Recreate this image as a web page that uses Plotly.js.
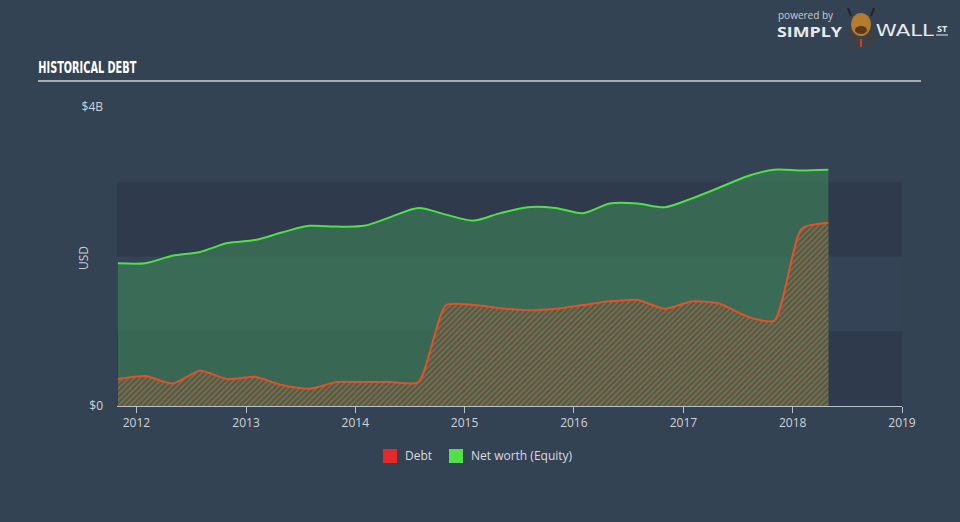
<!DOCTYPE html>
<html>
<head>
<meta charset="utf-8">
<script src="https://cdn.plot.ly/plotly-3.0.1.min.js"></script>
<style>
html,body{margin:0;padding:0;background:#344354;}
#chart{width:960px;height:522px;}
</style>
</head>
<body>
<div id="chart"></div>
<script>
var dates = ['2011-10-31','2012-01-31','2012-04-30','2012-07-31','2012-10-31','2013-01-31','2013-04-30','2013-07-31','2013-10-31','2014-01-31','2014-04-30','2014-07-31','2014-10-31','2015-01-31','2015-04-30','2015-07-31','2015-10-31','2016-01-31','2016-04-30','2016-07-31','2016-10-31','2017-01-31','2017-04-30','2017-07-31','2017-10-31','2018-01-31','2018-04-30'];
var debt = [0.36,0.40,0.30,0.47,0.36,0.39,0.28,0.23,0.32,0.32,0.32,0.32,1.35,1.35,1.31,1.28,1.30,1.35,1.40,1.42,1.30,1.40,1.37,1.20,1.14,2.37,2.45];
var equity = [1.91,1.91,2.01,2.06,2.18,2.22,2.32,2.41,2.40,2.41,2.53,2.65,2.56,2.48,2.58,2.66,2.65,2.58,2.71,2.71,2.66,2.78,2.92,3.07,3.16,3.15,3.16];
var yTickVals = [0,4];
var yTickText = ['$0','$4B'];
var xTickVals = ['2012-01-01','2013-01-01','2014-01-01','2015-01-01','2016-01-01','2017-01-01','2018-01-01','2019-01-01'];
var xTickText = ['2012','2013','2014','2015','2016','2017','2018','2019'];
var legendNames = ['Debt','Net worth (Equity)'];

var traces = [
  {x: dates, y: equity, type: 'scatter', mode: 'lines', name: legendNames[1],
   line: {color: '#4fe04a', width: 2, shape: 'spline', smoothing: 0.8},
   fill: 'tozeroy', fillcolor: 'rgba(64,140,90,0.55)', hoverinfo: 'skip'},
  {x: dates, y: debt, type: 'scatter', mode: 'lines', name: legendNames[0],
   line: {color: '#e0522c', width: 2, shape: 'spline', smoothing: 0.6},
   fill: 'tozeroy', fillcolor: '#3b6551',
   fillpattern: {shape: '/', fgcolor: '#b0613d', bgcolor: '#3d6450', size: 4, solidity: 0.35},
   hoverinfo: 'skip'}
];

var font = "'Open Sans', 'DejaVu Sans', sans-serif";
var W = 785, H = 299;
function px(x){ return (x-117)/W; }
function py(y){ return (406-y)/H; }
var layout = {
  width: 960, height: 522,
  paper_bgcolor: '#344354', plot_bgcolor: 'rgba(0,0,0,0)',
  margin: {l: 117, r: 58, t: 107, b: 116},
  showlegend: false,
  xaxis: {type: 'date', range: ['2011-10-28','2019-01-01'], tickvals: xTickVals, ticktext: xTickText,
    showgrid: false, zeroline: false, showline: true, linecolor: '#b8c0c8', linewidth: 1,
    ticks: 'outside', ticklen: 6, tickcolor: '#b8c0c8',
    tickfont: {color: '#d0d4d8', size: 12, family: font}},
  yaxis: {range: [0,4], tickvals: yTickVals, ticktext: yTickText, showgrid: false, zeroline: false,
    showline: false, ticks: '', ticklabelstandoff: 13,
    tickfont: {color: '#d0d4d8', size: 12, family: font}},
  shapes: [
    {type: 'rect', xref: 'paper', yref: 'y', x0: 0, x1: 1, y0: 0, y1: 1, fillcolor: '#2f3b4c', line: {width: 0}, layer: 'below'},
    {type: 'rect', xref: 'paper', yref: 'y', x0: 0, x1: 1, y0: 1, y1: 2, fillcolor: '#344356', line: {width: 0}, layer: 'below'},
    {type: 'rect', xref: 'paper', yref: 'y', x0: 0, x1: 1, y0: 2, y1: 3, fillcolor: '#2f3b4c', line: {width: 0}, layer: 'below'},
    {type: 'line', xref: 'paper', yref: 'paper', x0: px(38), x1: px(921), y0: py(81), y1: py(81), line: {color: '#a4acb4', width: 2}},
    {type: 'rect', xref: 'paper', yref: 'paper', x0: px(383), x1: px(397), y0: py(449), y1: py(463), fillcolor: '#e8282a', line: {width: 0}},
    {type: 'rect', xref: 'paper', yref: 'paper', x0: px(449), x1: px(463), y0: py(449), y1: py(463), fillcolor: '#4fe04a', line: {width: 0}},
    // simplified logo mascot
    {type: 'circle', xref: 'paper', yref: 'paper', x0: px(847), x1: px(877), y0: py(49), y1: py(22), fillcolor: '#3c4148', line: {width: 0}},
    {type: 'circle', xref: 'paper', yref: 'paper', x0: px(851), x1: px(871), y0: py(36), y1: py(13), fillcolor: '#b67b2c', line: {width: 0}},
    {type: 'circle', xref: 'paper', yref: 'paper', x0: px(855), x1: px(867), y0: py(34), y1: py(26), fillcolor: '#5a3a1c', line: {width: 0}},
    {type: 'line', xref: 'paper', yref: 'paper', x0: px(851), x1: px(848), y0: py(16), y1: py(8), line: {color: '#222', width: 2}},
    {type: 'line', xref: 'paper', yref: 'paper', x0: px(871), x1: px(874), y0: py(16), y1: py(8), line: {color: '#222', width: 2}},
    {type: 'line', xref: 'paper', yref: 'paper', x0: px(861), x1: px(861), y0: py(39), y1: py(47), line: {color: '#d04020', width: 2}},
    {type: 'line', xref: 'paper', yref: 'paper', x0: px(936), x1: px(948), y0: py(35), y1: py(35), line: {color: '#e8eaec', width: 1}}
  ],
  annotations: [
    {text: '<b>HISTORICAL DEBT</b>', xref: 'paper', yref: 'paper', x: px(87), y: py(67), xanchor: 'center', yanchor: 'middle', showarrow: false,
     font: {color: '#ffffff', size: 16, family: "'DejaVu Sans Condensed', 'Liberation Sans Narrow', sans-serif"}},
    {text: 'USD', xref: 'paper', yref: 'paper', x: px(83), y: py(258), xanchor: 'center', yanchor: 'middle', showarrow: false, textangle: -90,
     font: {color: '#c8ccd0', size: 12, family: font}},
    {text: 'Debt', xref: 'paper', yref: 'paper', x: px(403), y: py(456), xanchor: 'left', yanchor: 'middle', showarrow: false,
     font: {color: '#d8dce0', size: 12, family: font}},
    {text: 'Net worth (Equity)', xref: 'paper', yref: 'paper', x: px(469), y: py(456), xanchor: 'left', yanchor: 'middle', showarrow: false,
     font: {color: '#d8dce0', size: 12, family: font}},
    {text: 'powered by', xref: 'paper', yref: 'paper', x: px(776), y: py(15), xanchor: 'left', yanchor: 'middle', showarrow: false,
     font: {color: '#c8ccd0', size: 10, family: font}},
    {text: '<b>SIMPLY</b>', xref: 'paper', yref: 'paper', x: px(809), y: py(32), xanchor: 'center', yanchor: 'middle', showarrow: false,
     font: {color: '#e8eaec', size: 14, family: font}},
    {text: 'WALL', xref: 'paper', yref: 'paper', x: px(905), y: py(31), xanchor: 'center', yanchor: 'middle', showarrow: false,
     font: {color: '#e8eaec', size: 16, family: "'DejaVu Sans', sans-serif"}},
    {text: '<b>ST</b>', xref: 'paper', yref: 'paper', x: px(935), y: py(29), xanchor: 'left', yanchor: 'middle', showarrow: false,
     font: {color: '#e8eaec', size: 9, family: font}}
  ]
};

Plotly.newPlot('chart', traces, layout, {staticPlot: true}).then(function(){
  var fits = {'HISTORICAL DEBT': 98, 'SIMPLY': 65, 'WALL': 58};
  document.querySelectorAll('.annotation-text').forEach(function(t){
    var s = t.textContent;
    if (fits[s]) {
      t.setAttribute('textLength', fits[s]);
      t.setAttribute('lengthAdjust', 'spacingAndGlyphs');
    }
  });
});
</script>
</body>
</html>
